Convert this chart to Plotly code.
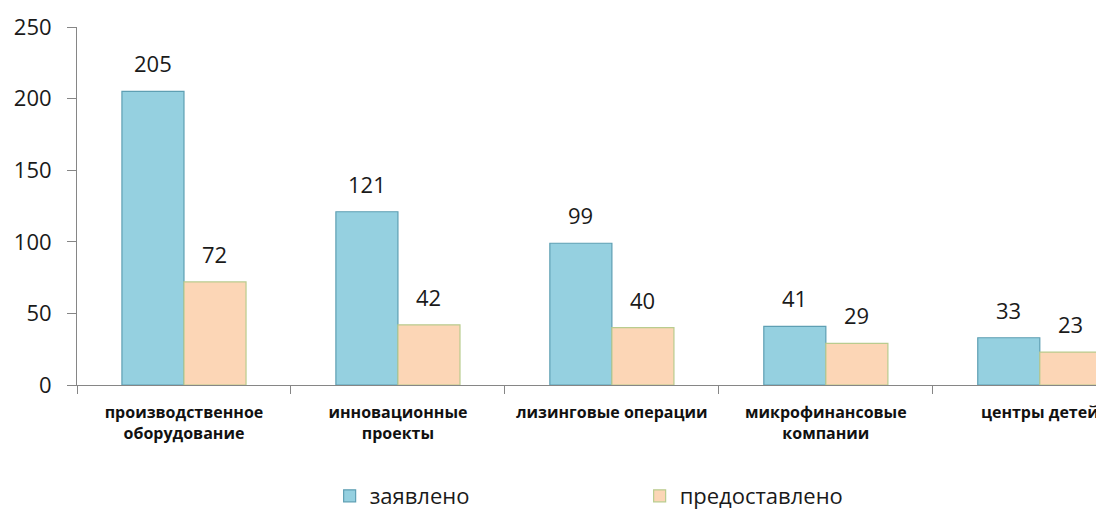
import plotly.graph_objects as go

categories = ["производственное<br>оборудование", "инновационные<br>проекты",
              "лизинговые операции", "микрофинансовые<br>компании", "центры детей"]
declared = [205, 121, 99, 41, 33]
granted = [72, 42, 40, 29, 23]
series_names = ["заявлено", "предоставлено"]

FONT = "Open Sans"
TXT = "#1a1a1a"

fig = go.Figure()
fig.add_trace(go.Bar(x=categories, y=declared, name=series_names[0],
                     marker=dict(color="#95D0E0", line=dict(color="#5E9FB3", width=1.2))))
fig.add_trace(go.Bar(x=categories, y=granted, name=series_names[1],
                     marker=dict(color="#FCD6B6", line=dict(color="#B9CC8E", width=1.2))))

for i, c in enumerate(categories):
    for vals, shift in ((declared, -31), (granted, 31)):
        fig.add_annotation(x=c, y=vals[i], xref="x", yref="y", text=str(vals[i]),
                           showarrow=False, xshift=shift, yanchor="bottom", yshift=11,
                           font=dict(family=FONT, size=22, color=TXT))

# page body has an 8px default margin, so the figure is offset by (8, 8)
fig.update_layout(
    width=1096, height=503,
    margin=dict(l=69, r=0, t=19, b=126, autoexpand=False),
    paper_bgcolor="white", plot_bgcolor="white",
    barmode="group", bargap=0.42, bargroupgap=0,
    font=dict(family=FONT, color=TXT),
    legend=dict(orientation="h", x=0.246, xanchor="left", y=-0.31, yanchor="middle",
                entrywidth=265, font=dict(size=22, family=FONT, color=TXT),
                itemwidth=30),
    showlegend=True,
)
fig.update_xaxes(range=[-0.5, 4.3], showline=True, linecolor="#868686", linewidth=1,
                 ticks="outside", tickson="boundaries", ticklen=8, tickcolor="#868686",
                 tickfont=dict(family=FONT, size=16, weight="bold", color="#111"),
                 ticklabelstandoff=13, automargin=False, showgrid=False)
fig.update_yaxes(range=[0, 250], tickvals=[0, 50, 100, 150, 200, 250],
                 showline=True, linecolor="#868686", linewidth=1,
                 ticks="outside", ticklen=9, tickcolor="#868686",
                 tickfont=dict(family=FONT, size=22, color=TXT),
                 showgrid=False, zeroline=False, ticklabelstandoff=11, automargin=False)

fig.write_html("out.html")
